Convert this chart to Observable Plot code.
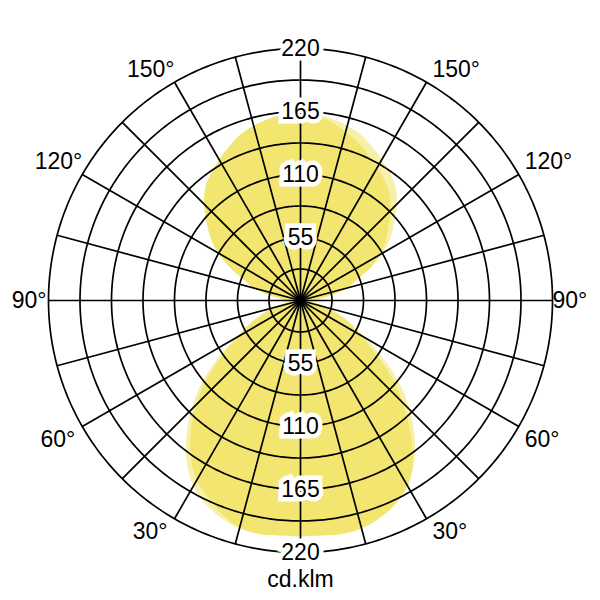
<!DOCTYPE html>
<html><head><meta charset="utf-8">
<script src="https://cdn.jsdelivr.net/npm/d3@7"></script>
<script src="https://cdn.jsdelivr.net/npm/@observablehq/plot@0.6"></script>
<style>body{margin:0;background:#fff}</style>
</head><body><div id="chart"></div>
<script>
// gamma angles (0° = straight down, 180° = straight up)
const gammaAngles = [0,5,10,15,20,25,30,35,40,45,50,55,60,65,70,75,80,85,90,95,100,105,110,115,120,125,130,135,140,145,150,155,160,165,170,175,180];
// luminous intensity, cd/klm — C0 (right half) and C180 (left half)
const c0   = [206,206,207,206,202,196,187,173,155,135,113,88,66,50,36,25,15,9,6,16,28,42,52,68,83,96,107,119,129,136,142,148,154,158,161,163,163];
const c180 = [206,206,207,206,202,196,187,173,155,135,113,88,66,50,36,25,15,9,6,16,28,42,52,68,83,96,107,119,129,136,142,148,154,158,161,163,163];
// C90 (right half) and C270 (left half)
const c90  = [206,206,207,206,202,196,187,171,149,126,104,79,60,47,35,25,15,9,6,16,28,42,52,67,80,91,100,111,121,128,134,140,147,152,158,162,163];
const c270 = [206,206,207,205,199,190,181,167,149,129,107,83,63,49,36,25,15,9,6,16,28,42,52,68,83,96,107,119,129,136,142,148,154,158,161,163,163];

const ringValues = [27.5,55,82.5,110,137.5,165,192.5,220];
const radialTicks = [55,110,165,220];
const degreeTicks = [30,60,90,120,150];
const spokeAngles = [0,15,30,45,60,75,90,105,120,135,150,165,180,195,210,225,240,255,270,285,300,315,330,345];
const unitLabel = "cd.klm";

const RMAX = 220;
const D = RMAX * 300 / 252;
const rad = a => a * Math.PI / 180;
const polar = (r, a, side) => ({x: side * r * Math.sin(rad(a)), y: -r * Math.cos(rad(a))});

function curvePoints(name, right, left) {
  const pts = [];
  gammaAngles.forEach((a, i) => pts.push({curve: name, ...polar(right[i], a, 1)}));
  for (let i = gammaAngles.length - 2; i >= 1; i--) pts.push({curve: name, ...polar(left[i], gammaAngles[i], -1)});
  return pts;
}
const curve1 = curvePoints("C0-C180", c0, c180);
const curve2 = curvePoints("C90-C270", c90, c270);

const ringPts = [];
for (const v of ringValues) for (let a = 0; a <= 360; a += 1) ringPts.push({ring: v, ...polar(v, a, 1)});

const spokes = spokeAngles.map(a => ({x2: RMAX * Math.sin(rad(a)), y2: -RMAX * Math.cos(rad(a))}));

const tickPts = [...radialTicks.map(v => ({x: 0, y: v, t: String(v)})), ...radialTicks.map(v => ({x: 0, y: -v, t: String(v)}))];

const deg = (list, side) => list.map(a => ({...polar(RMAX, a, side), t: a + "°"}));
const font = "Liberation Sans, Arial, Helvetica, sans-serif";
const fs = 23;

const chart = Plot.plot({
  width: 600, height: 600, margin: 0,
  style: {fontFamily: font, background: "#fff"},
  x: {domain: [-D, D], axis: null},
  y: {domain: [-D, D], axis: null},
  marks: [
    Plot.line(curve1, {x: "x", y: "y", curve: "catmull-rom-closed", fill: "rgb(232,214,18)", fillOpacity: 0.37, stroke: "none"}),
    Plot.line(curve2, {x: "x", y: "y", curve: "catmull-rom-closed", fill: "rgb(232,214,18)", fillOpacity: 0.37, stroke: "none"}),
    Plot.line(ringPts, {x: "x", y: "y", z: "ring", stroke: "#000", strokeWidth: 1.7}),
    Plot.link(spokes, {x1: 0, y1: 0, x2: "x2", y2: "y2", stroke: "#000", strokeWidth: 1.7}),
    Plot.text(tickPts, {x: "x", y: "y", text: "t", fontSize: fs, fill: "#000", stroke: "#fff", strokeWidth: 9, strokeLinejoin: "miter"}),
    Plot.text(deg(degreeTicks.filter(a => a > 90), -1), {x: "x", y: "y", text: "t", fontSize: fs, textAnchor: "end", dx: 0, dy: -13}),
    Plot.text(deg(degreeTicks.filter(a => a === 90), -1), {x: "x", y: "y", text: "t", fontSize: fs, textAnchor: "end", dx: -2}),
    Plot.text(deg(degreeTicks.filter(a => a < 90), -1), {x: "x", y: "y", text: "t", fontSize: fs, textAnchor: "end", dx: -7, dy: 13}),
    Plot.text(deg(degreeTicks.filter(a => a > 90), 1), {x: "x", y: "y", text: "t", fontSize: fs, textAnchor: "start", dx: 6, dy: -13}),
    Plot.text(deg(degreeTicks.filter(a => a === 90), 1), {x: "x", y: "y", text: "t", fontSize: fs, textAnchor: "start", dx: 0}),
    Plot.text(deg(degreeTicks.filter(a => a < 90), 1), {x: "x", y: "y", text: "t", fontSize: fs, textAnchor: "start", dx: 6, dy: 13}),
    Plot.text([unitLabel], {frameAnchor: "bottom", lineAnchor: "middle", text: d => d, fontSize: fs, dy: -21})
  ]
});
document.getElementById("chart").append(chart);
</script>
</body></html>
